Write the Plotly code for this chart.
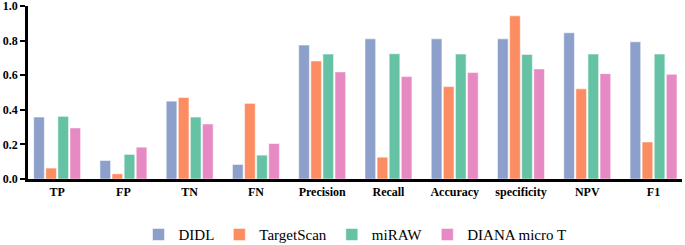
import plotly.graph_objects as go

categories = ["TP", "FP", "TN", "FN", "Precision", "Recall", "Accuracy", "specificity", "NPV", "F1"]
didl = [0.358, 0.107, 0.450, 0.084, 0.774, 0.810, 0.810, 0.810, 0.845, 0.793]
targetscan = [0.063, 0.030, 0.471, 0.437, 0.682, 0.126, 0.534, 0.943, 0.521, 0.214]
miraw = [0.362, 0.142, 0.358, 0.138, 0.722, 0.724, 0.722, 0.720, 0.722, 0.722]
diana = [0.295, 0.184, 0.318, 0.205, 0.619, 0.592, 0.615, 0.636, 0.609, 0.605]
y_ticks = [0.0, 0.2, 0.4, 0.6, 0.8, 1.0]
y_tick_labels = ["0.0", "0.2", "0.4", "0.6", "0.8", "1.0"]

series = [
    ("DIDL", didl, "#8DA0CB"),
    ("TargetScan", targetscan, "#FC8D62"),
    ("miRAW", miraw, "#66C2A5"),
    ("DIANA micro T", diana, "#E78AC3"),
]

fig = go.Figure()
for name, vals, color in series:
    fig.add_trace(go.Bar(
        x=categories, y=vals, name=name,
        marker=dict(color=color, line=dict(color="white", width=0.5)),
    ))

serif = "serif"
fig.update_layout(
    width=685, height=245,
    margin=dict(l=28, r=3, t=6, b=66, autoexpand=False),
    barmode="group",
    bargap=0.27,
    bargroupgap=0.12,
    plot_bgcolor="white",
    paper_bgcolor="white",
    font=dict(family=serif, color="black"),
    showlegend=True,
    legend=dict(
        orientation="h", x=0.5, xanchor="center", y=-0.322, yanchor="middle",
        font=dict(family=serif, size=15, color="black"),
        itemwidth=30, tracegroupgap=0,
    ),
)
fig.update_xaxes(
    type="category", range=[-0.44, 9.43], automargin=False,
    showline=True, linecolor="black", linewidth=2.5,
    ticks="", showgrid=False,
    tickfont=dict(family=serif, size=12, color="black", weight="bold"),
)
fig.update_yaxes(
    range=[0, 1.0], tickvals=y_ticks, ticktext=y_tick_labels, automargin=False,
    ticklabeloverflow="allow",
    showline=True, linecolor="black", linewidth=2.5,
    ticks="outside", ticklen=5, tickwidth=2, tickcolor="black",
    showgrid=False, zeroline=False,
    tickfont=dict(family=serif, size=12, color="black", weight="bold"),
)
fig.write_html("out.html", config={"displayModeBar": False},
               post_script="document.body.style.margin='0';")
